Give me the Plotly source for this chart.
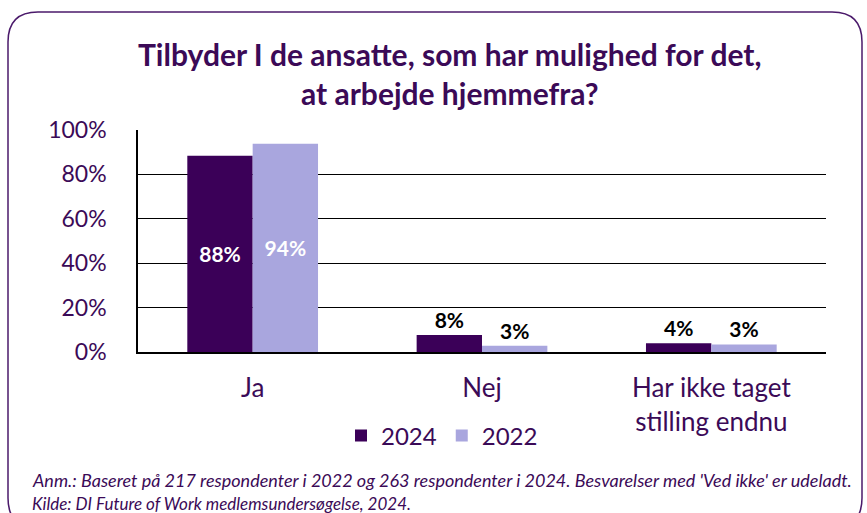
import plotly.graph_objects as go

categories = ["Ja", "Nej", "Har ikke taget<br>stilling endnu"]
series_names = ["2024", "2022"]
values_2024 = [88.4, 7.7, 3.9]
values_2022 = [93.8, 2.8, 3.4]

DARK = "#3B0058"
LIGHT = "#A9A6DE"
TXT = "#3B0A57"
FONT = "Lato"

W, H = 867, 513
ML, MR, MT, MB = 138, 41, 130, 161
PW, PH = W - ML - MR, H - MT - MB


def px(x):
    return (x - ML) / PW


def py(y):
    return (H - MB - y) / PH


fig = go.Figure()
for name, vals, col in [(series_names[0], values_2024, DARK), (series_names[1], values_2022, LIGHT)]:
    fig.add_trace(go.Bar(
        x=categories, y=vals, name=name, marker=dict(color=col, line=dict(width=0)),
        texttemplate="<b>%{y:.0f}%</b>", textposition="auto", insidetextanchor="middle",
        insidetextfont=dict(color="white", size=21, family=FONT),
        outsidetextfont=dict(color="black", size=21, family=FONT),
        textfont=dict(family=FONT, size=21), cliponaxis=False,
    ))

# rounded border
x0, y0, x1, y1, r = 8, 12, 862, 528, 30
path = (f"M {px(x0 + r)},{py(y0)} L {px(x1 - r)},{py(y0)} Q {px(x1)},{py(y0)} {px(x1)},{py(y0 + r)} "
        f"L {px(x1)},{py(y1 - r)} Q {px(x1)},{py(y1)} {px(x1 - r)},{py(y1)} "
        f"L {px(x0 + r)},{py(y1)} Q {px(x0)},{py(y1)} {px(x0)},{py(y1 - r)} "
        f"L {px(x0)},{py(y0 + r)} Q {px(x0)},{py(y0)} {px(x0 + r)},{py(y0)} Z")

fig.update_layout(
    width=W, height=H,
    margin=dict(l=ML, r=MR, t=MT, b=MB, autoexpand=False),
    paper_bgcolor="white", plot_bgcolor="white",
    barmode="group", bargap=0.43, bargroupgap=0,
    font=dict(family=FONT, color=TXT),
    showlegend=True,
    legend=dict(orientation="h", x=px(442), y=py(436), xanchor="center", yanchor="middle",
                font=dict(size=24, color=TXT, family=FONT), bgcolor="rgba(0,0,0,0)"),
    xaxis=dict(showline=True, linecolor="black", linewidth=1.5, ticks="",
               tickfont=dict(size=26, color=TXT, family=FONT), fixedrange=True,
               ticklabelstandoff=12),
    yaxis=dict(range=[0, 100], dtick=20, ticksuffix="%", showgrid=True, gridcolor="black",
               gridwidth=1, showline=True, linecolor="black", linewidth=1.5, zeroline=False,
               tickfont=dict(size=23, color=TXT, family=FONT), ticklabelstandoff=25,
               fixedrange=True),
    shapes=[dict(type="path", path=path, xref="paper", yref="paper",
                 line=dict(color="#4B1A6B", width=1.5), fillcolor="rgba(0,0,0,0)", layer="below")],
    annotations=[
        dict(text="<b>Tilbyder I de ansatte, som har mulighed for det,<br>at arbejde hjemmefra?</b>",
             x=px(450), y=py(74), xref="paper", yref="paper", xanchor="center", yanchor="middle",
             showarrow=False, font=dict(size=30, color=TXT, family=FONT)),
        dict(text="<i>Anm.: Baseret på 217 respondenter i 2022 og 263 respondenter i 2024. Besvarelser med 'Ved ikke' er udeladt.</i>",
             x=px(30), y=py(480), xref="paper", yref="paper", xanchor="left", yanchor="middle",
             showarrow=False, font=dict(size=18, color=TXT, family=FONT)),
        dict(text="<i>Kilde: DI Future of Work medlemsundersøgelse, 2024.</i>",
             x=px(30), y=py(503), xref="paper", yref="paper", xanchor="left", yanchor="middle",
             showarrow=False, font=dict(size=17, color=TXT, family=FONT)),
    ],
)

fig.write_html("out.html", config={"displayModeBar": False},
               post_script="document.body.style.margin='0';document.body.style.overflow='hidden';")
